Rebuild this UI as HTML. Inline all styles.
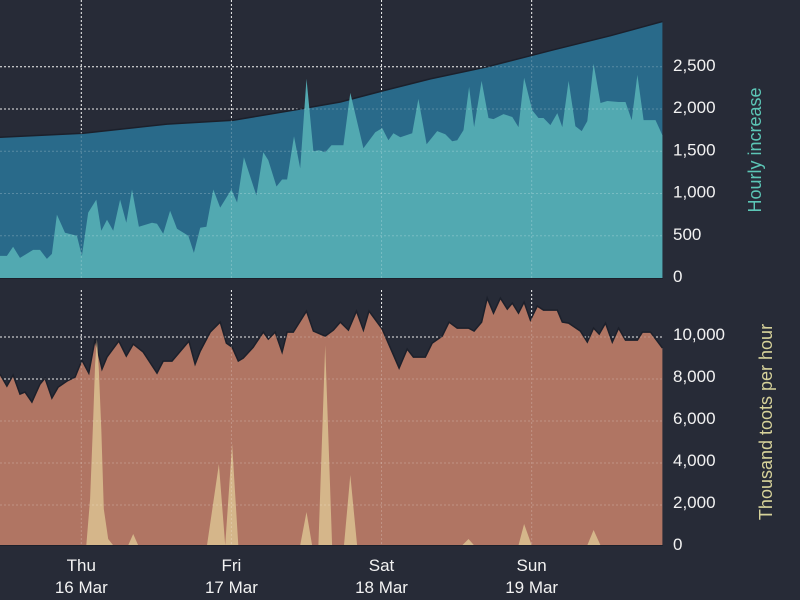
<!DOCTYPE html>
<html><head><meta charset="utf-8">
<style>
html,body{margin:0;padding:0;background:#272b37;}
svg{display:block;font-family:"Liberation Sans",sans-serif;}
</style></head>
<body>
<svg id="chart" width="800" height="600" viewBox="0 0 800 600" xmlns="http://www.w3.org/2000/svg">
<rect x="0" y="0" width="800" height="600" fill="#272b37"/>
<g id="top-under"></g>
<g id="bot-under"></g>
<g id="marks"></g>
<g id="top-over"></g>
<g id="bot-over"></g>
<g id="axes"></g>
<text transform="translate(761,150) rotate(-90)" text-anchor="middle" font-size="18" fill="#5cc6b6">Hourly increase</text>
<text transform="translate(772,422) rotate(-90)" text-anchor="middle" font-size="18" fill="#d6d29a">Thousand toots per hour</text>
</svg>
<script>
// hours since Wed 15 Mar 11:00
const cumHours = [0,13.3,26.7,37.3,48,54.4,61.1,68.8,77.9,88.5,97.6,105.9];
const cumValues = [1666,1714,1821,1868,2000,2083,2213,2356,2500,2700,2868,3035];

const incHours = [0,1.1,2.1,3.2,5.3,6.4,7.5,8.3,9.1,10.4,12.3,13.1,14.1,15.4,16.2,17.1,18.1,19.2,20.2,21.1,22.2,24.3,25.1,26.1,27.2,28.3,30.1,31.0,32,33,34.1,35.2,37,37.9,39,41,42.1,42.9,44.2,45.1,45.9,47,48,49,50.1,51,52,53,54.4,54.9,56,58.1,60,61.1,62.1,62.9,64,65.9,66.9,68.2,69.9,71.2,72.3,73.1,74.1,75,75.8,77,78.1,78.9,80.5,81.9,82.9,83.8,85.1,86.1,86.9,88,89.1,89.9,90.9,92,93,93.9,94.9,96,97.1,98.9,100,101,101.9,102.9,104.8,105.9];
const incValues = [262,262,369,238,333,333,226,285,750,536,500,262,774,928,559,690,559,928,654,1047,607,654,643,524,797,583,500,297,595,607,1047,833,1047,893,1428,976,1488,1393,1083,1166,1166,1678,1297,2357,1500,1512,1488,1571,1571,1571,2190,1535,1726,1774,1631,1714,1666,1714,2119,1583,1738,1702,1619,1631,1750,2261,1786,2333,1893,1881,1940,1905,1786,2369,1983,1893,1893,1809,1952,1786,2333,1797,1738,1857,2535,2071,2095,2083,2083,1869,2404,1869,1869,1690];

const tootHours = [0,1.1,2.1,3.2,4,5.1,6.4,7.2,8.3,9.3,10.7,12,13.1,14.2,15.2,16.3,17.1,19,20.2,21.3,22.9,25.1,26.1,27.5,30.2,31.2,32,33.6,35.2,36.2,37.1,38.1,38.9,40.5,42.1,42.9,44,45.1,45.9,46.9,49,50.1,52,53.3,54.4,55.7,57,58.1,59,61.1,63.8,65.1,66.1,68,69.1,70.7,71.8,73.1,74.9,75.8,77,77.9,78.9,80,81.1,81.9,82.9,83.8,84.8,85.9,86.9,89.1,89.9,90.9,92.8,93.9,94.9,95.8,96.8,97.9,98.9,100,101.9,102.7,104,105.9];
const tootValues = [8235,7664,8187,7283,7378,6902,7759,8044,7092,7616,7902,8092,8901,8282,9901,8473,9044,9806,9092,9663,9282,8282,8854,8854,9806,8711,9330,10234,10710,9711,9520,8854,8996,9520,10234,9901,10234,9282,10234,10234,11234,10282,10044,10330,10710,10330,11234,10330,11234,10377,8520,9425,9044,9044,9711,10044,10710,10425,10425,10282,10710,11853,11139,11853,11329,11615,11139,11663,10805,11472,11282,11282,10710,10663,10282,9758,10425,10139,10663,9758,10425,9853,9853,10234,10234,9472];

const spikeHours = [0,13.8,14.4,14.9,15.2,15.5,15.8,16.2,16.6,17.3,18.1,20.5,21.3,22.1,33.1,35,36,37.1,38.1,48,49,49.9,50.9,52,53.1,55,56,57.1,73.9,74.9,75.8,82.9,83.8,85,93.9,94.9,96,105.9];
const spikeValues = [80,80,2285,6093,8711,9901,8473,5617,1809,380,80,80,619,80,80,3950,80,4903,80,80,1666,80,80,9615,80,80,3427,80,80,380,80,80,1095,80,80,809,80,80];

const topTicks = [0,500,1000,1500,2000,2500];
const topTickLabels = ["0","500","1,000","1,500","2,000","2,500"];
const botTicks = [0,2000,4000,6000,8000,10000];
const botTickLabels = ["0","2,000","4,000","6,000","8,000","10,000"];
const dayHours = [13,37,61,85];
const dayNames = ["Thu","Fri","Sat","Sun"];
const dayDates = ["16 Mar","17 Mar","18 Mar","19 Mar"];

const NS="http://www.w3.org/2000/svg";
const X0=0, X1=663, H0=0, H1=106;
const x = h => X0 + (h-H0)/(H1-H0)*(X1-X0);
const TOP_BASE=278, TOP_K=0.0845;
const yTop = v => TOP_BASE - v*TOP_K;
const BOT_BASE=547, BOT_K=0.021;
const yBot = v => BOT_BASE - v*BOT_K;

function mk(tag, attrs, parent){const e=document.createElementNS(NS,tag);for(const k in attrs)e.setAttribute(k,attrs[k]);parent.appendChild(e);return e;}

function sortPairs(hs, vs){const n=Math.min(hs.length,vs.length);const p=[];for(let i=0;i<n;i++)p.push([hs[i],vs[i]]);p.sort((a,b)=>a[0]-b[0]);return p;}
function areaPath(hs, vs, yf, base){
  const p=sortPairs(hs,vs);
  let d="M"+x(p[0][0]).toFixed(1)+","+base;
  p.forEach(q=>{d+="L"+x(q[0]).toFixed(1)+","+yf(q[1]).toFixed(1);});
  d+="L"+x(p[p.length-1][0]).toFixed(1)+","+base+"Z";return d;}
function linePath(hs, vs, yf){
  const p=sortPairs(hs,vs);
  return p.map((q,i)=>(i?"L":"M")+x(q[0]).toFixed(1)+","+yf(q[1]).toFixed(1)).join("");}

const marks=document.getElementById('marks');
const defs=mk('defs',{},marks);
const c1=mk('clipPath',{id:'clipTop'},defs);mk('rect',{x:0,y:0,width:X1,height:TOP_BASE},c1);
const c2=mk('clipPath',{id:'clipBot'},defs);mk('rect',{x:0,y:280,width:X1,height:265},c2);

function grid(gid, ticks, yf, y0, y1, under){
  const g=document.getElementById(gid);
  const col=under?"#e8e8e8":"rgba(255,255,255,0.22)";
  ticks.forEach(t=>{ if(t===0) return;
    const l=mk('line',{x1:0,x2:X1,y1:yf(t),y2:yf(t),stroke:col,'stroke-width':1,'stroke-dasharray':'2,2'},g);
    
    
  });
  dayHours.forEach((h,i)=>{
    const l=mk('line',{x1:x(h),x2:x(h),y1:y0,y2:y1,stroke:col,'stroke-width':1,'stroke-dasharray':'2,2'},g);
    
    
  });
}
grid('top-under',topTicks,yTop,0,TOP_BASE,true);
grid('bot-under',botTicks,yBot,290,545,true);

const gt=mk('g',{'clip-path':'url(#clipTop)'},marks);
const a1=mk('path',{d:areaPath(cumHours,cumValues,yTop,TOP_BASE),fill:'#296a8a'},gt);


const l1=mk('path',{d:linePath(cumHours,cumValues,yTop),fill:'none',stroke:'#1c202b','stroke-width':1.5},gt);


const a2=mk('path',{d:areaPath(incHours,incValues,yTop,TOP_BASE),fill:'#52a9b1'},gt);



const gb=mk('g',{'clip-path':'url(#clipBot)'},marks);
const a3=mk('path',{d:areaPath(tootHours,tootValues,yBot,BOT_BASE),fill:'#b07563'},gb);


const l3=mk('path',{d:linePath(tootHours,tootValues,yBot),fill:'none',stroke:'#1c202b','stroke-width':1.5},gb);


const a4=mk('path',{d:areaPath(spikeHours,spikeValues,yBot,BOT_BASE),fill:'#d5b68a'},gb);



grid('top-over',topTicks,yTop,0,TOP_BASE,false);
grid('bot-over',botTicks,yBot,290,545,false);

const ax=document.getElementById('axes');
const b1=mk('line',{x1:0,x2:X1,y1:278.5,y2:278.5,stroke:'#1c202b','stroke-width':1},ax);


const b2=mk('line',{x1:0,x2:X1,y1:545.5,y2:545.5,stroke:'#1c202b','stroke-width':1},ax);


topTicks.forEach((t,i)=>{
  const tx=mk('text',{x:673,y:yTop(t)+4,'font-size':17,fill:'#f2f2f2'},ax);
  tx.textContent=topTickLabels[i];
  
  
});
botTicks.forEach((t,i)=>{
  const tx=mk('text',{x:673,y:yBot(t)+3,'font-size':17,fill:'#f2f2f2'},ax);
  tx.textContent=botTickLabels[i];
  
  
});
dayHours.forEach((h,i)=>{
  const t1=mk('text',{x:x(h),y:571,'font-size':17,fill:'#f2f2f2','text-anchor':'middle'},ax);
  t1.textContent=dayNames[i];
  
  
  const t2=mk('text',{x:x(h),y:593,'font-size':17,fill:'#f2f2f2','text-anchor':'middle'},ax);
  t2.textContent=dayDates[i];
  
  
});
</script>
</body></html>
